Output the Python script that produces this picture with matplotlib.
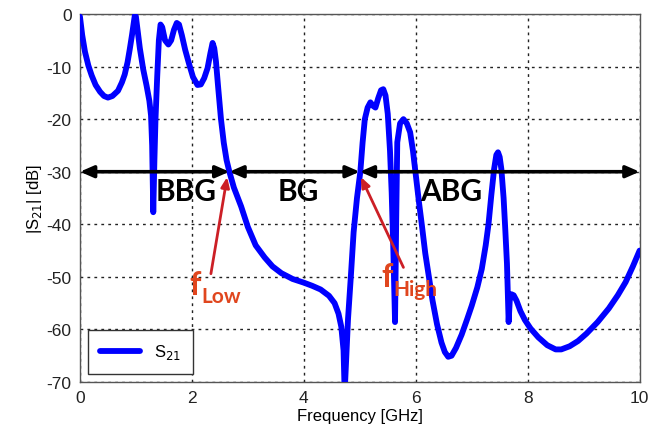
import matplotlib
matplotlib.use("Agg")
import matplotlib.pyplot as plt

freq = [0.0, 0.04, 0.09, 0.15, 0.21, 0.28, 0.36, 0.43, 0.5, 0.58, 0.68, 0.75, 0.8, 0.85, 0.89, 0.93,
        0.96, 0.98, 1.0, 1.03, 1.07, 1.13, 1.19, 1.24, 1.27, 1.29, 1.31, 1.33, 1.35, 1.38, 1.41, 1.44,
        1.47, 1.52, 1.58, 1.63, 1.68, 1.73, 1.77, 1.82, 1.88, 1.95, 2.02, 2.1, 2.16, 2.22, 2.28, 2.33,
        2.37, 2.40, 2.43, 2.47, 2.52, 2.57, 2.62, 2.67, 2.75, 2.88, 3.0, 3.14, 3.3, 3.44, 3.6, 3.8,
        4.0, 4.15, 4.3, 4.45, 4.55, 4.62, 4.67, 4.71, 4.73, 4.76, 4.79, 4.84, 4.89, 4.95, 5.01, 5.05,
        5.09, 5.14, 5.19, 5.24, 5.28, 5.33, 5.38, 5.42, 5.46, 5.5, 5.54, 5.57, 5.60, 5.63, 5.65, 5.67,
        5.72, 5.78, 5.84, 5.9, 5.95, 6.0, 6.06, 6.11, 6.17, 6.23, 6.3, 6.38, 6.46, 6.52, 6.58, 6.64,
        6.72, 6.82, 6.92, 7.0, 7.1, 7.18, 7.25, 7.3, 7.35, 7.4, 7.44, 7.47, 7.5, 7.53, 7.57, 7.6,
        7.63, 7.66, 7.68, 7.71, 7.75, 7.8, 7.87, 7.95, 8.05, 8.19, 8.35, 8.5, 8.6, 8.75, 8.9, 9.05,
        9.25, 9.45, 9.61, 9.75, 9.88, 10.0]
s21 = [-0.5, -4.0, -7.2, -9.8, -11.7, -13.5, -14.8, -15.6, -15.9, -15.6, -14.6, -13.0, -11.5, -9.2, -6.7, -4.0,
       -1.8, -0.3, -0.5, -3.0, -6.5, -10.5, -13.6, -16.5, -19.3, -25.0, -37.7, -28.0, -20.0, -12.0, -5.0, -2.0,
       -2.5, -5.0, -5.8, -5.0, -3.0, -1.7, -2.0, -4.0, -6.8, -9.5, -12.0, -13.5, -13.4, -12.2, -10.3, -7.5,
       -5.5, -6.5, -9.0, -14.0, -20.0, -24.5, -27.8, -30.0, -33.0, -36.6, -40.5, -44.0, -46.3, -48.0, -49.3, -50.4,
       -51.1, -51.7, -52.4, -53.6, -55.0, -57.0, -59.5, -64.0, -72.0, -65.0, -58.0, -50.0, -41.5, -35.0, -30.0, -24.5,
       -20.0, -17.8, -16.8, -17.5, -17.8, -16.0, -14.5, -14.3, -15.5, -19.0, -26.0, -34.0, -45.0, -58.6, -40.0, -24.4,
       -20.8, -20.0, -20.8, -22.5, -26.0, -30.5, -36.0, -40.2, -45.5, -49.7, -54.5, -59.0, -62.5, -64.3, -65.2, -65.0,
       -63.5, -61.0, -58.0, -55.5, -52.0, -48.5, -44.0, -40.0, -34.5, -29.5, -26.8, -26.3, -27.2, -29.5, -35.0, -41.0,
       -47.5, -58.6, -54.5, -53.3, -53.5, -54.5, -56.5, -58.2, -59.8, -61.5, -63.0, -63.8, -63.8, -63.2, -62.2, -60.8,
       -58.6, -56.0, -53.5, -51.0, -48.0, -45.0]

xticks = [0, 2, 4, 6, 8, 10]
yticks = [0, -10, -20, -30, -40, -50, -60, -70]
band_edges = [0.0, 2.67, 5.0, 10.0]
band_labels = ["BBG", "BG", "ABG"]

plt.rcParams['font.family'] = ['Liberation Sans', 'DejaVu Sans']
plt.rcParams['axes.unicode_minus'] = False
fig = plt.figure(figsize=(6.5, 4.35), dpi=100)
ax = fig.add_axes([0.123, 0.1195, 0.861, 0.846])

ax.plot(freq, s21, color=(0, 0, 1), lw=4.2, solid_joinstyle='round', solid_capstyle='round',
        label='S$_{21}$', zorder=3)

ax.set_xlim(0, 10)
ax.set_ylim(-70, 0)
ax.set_xticks(xticks)
ax.set_yticks(yticks)
ax.tick_params(direction='in', length=0, labelsize=12.5, pad=6, colors='#222222')
ax.grid(True, color='#222222', linestyle=(0, (2, 3)), linewidth=1.0)
for sp in ax.spines.values():
    sp.set_color('#555555')
    sp.set_linewidth(1.0)
ax.set_xlabel('Frequency [GHz]', fontsize=12, labelpad=2)
ax.set_ylabel('|S$_{21}$| [dB]', fontsize=12, labelpad=2)

# band double arrows
for a, b in zip(band_edges[:-1], band_edges[1:]):
    ax.annotate('', xy=(b, -30), xytext=(a, -30),
                arrowprops=dict(arrowstyle='<|-|>,head_length=0.8,head_width=0.35', color='black', lw=2.6,
                                shrinkA=0, shrinkB=0), zorder=4)
label_x = [1.89, 3.91, 6.64]
for lx, lab in zip(label_x, band_labels):
    ax.text(lx, -33.6, lab, fontsize=21.5, fontweight='bold', family='Lato', ha='center', va='center',
            color='black', zorder=5)

# red annotations
red_arrow = '#cc1f26'
red_text = '#e0461e'
ax.annotate('', xy=(2.63, -31), xytext=(2.34, -49.4),
            arrowprops=dict(arrowstyle='-|>,head_length=0.6,head_width=0.25', color=red_arrow, lw=2,
                            shrinkA=0, shrinkB=0), zorder=5)
ax.annotate('', xy=(5.02, -31), xytext=(5.78, -48.2),
            arrowprops=dict(arrowstyle='-|>,head_length=0.6,head_width=0.25', color=red_arrow, lw=2,
                            shrinkA=0, shrinkB=0), zorder=5)
ax.text(1.95, -51.5, 'f', fontsize=23, fontweight='bold', family='Lato', color=red_text, ha='left', va='center', zorder=5)
ax.text(2.17, -53.6, 'Low', fontsize=15, fontweight='bold', family='Lato', color=red_text, ha='left', va='center', zorder=5)
ax.text(5.38, -49.9, 'f', fontsize=23, fontweight='bold', family='Lato', color=red_text, ha='left', va='center', zorder=5)
ax.text(5.6, -52.4, 'High', fontsize=15, fontweight='bold', family='Lato', color=red_text, ha='left', va='center', zorder=5)

leg = ax.legend(loc='lower left', fontsize=12, fancybox=False, framealpha=1, edgecolor='#333333',
                borderpad=0.75, handlelength=2.4, borderaxespad=0, bbox_to_anchor=(0.014, 0.022))
leg.get_frame().set_linewidth(1.0)

fig.savefig('out.png', dpi=100, facecolor='white')
